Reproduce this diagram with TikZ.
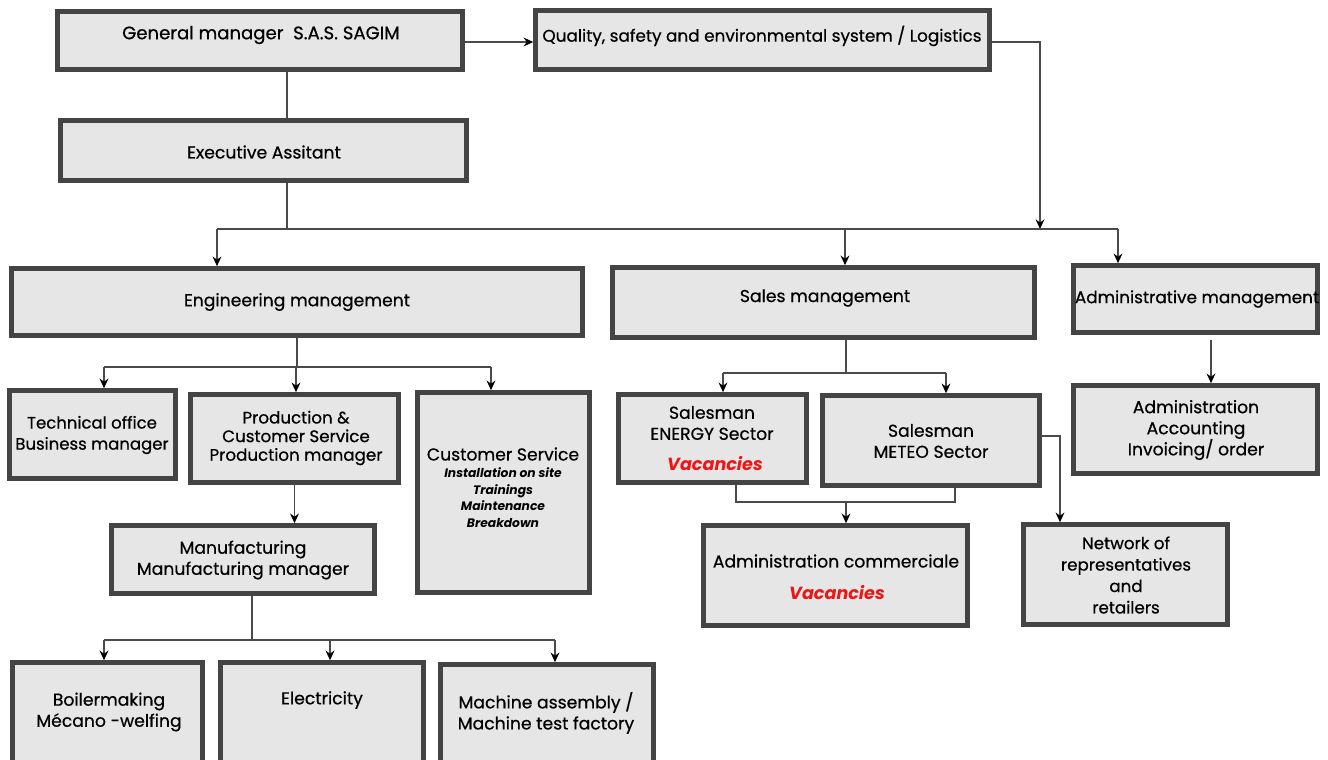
\documentclass[tikz,border=0pt]{standalone}
\usepackage{fontspec}
\setmainfont{Poppins}[UprightFeatures={FakeBold=0.6}]
\usetikzlibrary{arrows.meta,calc}
\definecolor{boxfill}{HTML}{E6E6E6}
\definecolor{boxline}{HTML}{444444}
\definecolor{wire}{HTML}{4A4A4A}
\definecolor{vacred}{HTML}{F01414}
\tikzset{
 org box/.style={draw=boxline,fill=boxfill,line width=2.6pt,inner sep=0pt,outer sep=1.3pt},
 org text/.style={align=center,inner sep=0pt,font=\fontsize{9.8}{12}\selectfont},
 org small/.style={align=center,inner sep=0pt,font=\fontsize{7}{9.6}\selectfont\bfseries\itshape},
 org vac/.style={inner sep=0pt,text=vacred,font=\fontsize{10}{12}\selectfont\bfseries\itshape},
 org wire/.style={draw=wire,line width=.8pt},
 org arrow/.style={org wire,-{Stealth[length=5.5pt,width=5pt,black]}}
}

\begin{document}
\begin{tikzpicture}[x=.02cm,y=-.02cm]
 \clip (0,0) rectangle (1328,760);
 \fill[white] (0,0) rectangle (1328,760);
 % top level
 \node[org box,minimum width=8.10cm,minimum height=1.16cm] (gm) at (260,40.5) {};
 \node[org text,font=\fontsize{10.3}{12}\selectfont] (gmtxt) at (261,35) {General manager\ \ S.A.S. SAGIM};
 \node[org box,minimum width=9.08cm,minimum height=1.18cm] (qse) at (762.5,40) {};
 \node[org text,font=\fontsize{9.6}{12}\selectfont] (qsetxt) at (762,36) {Quality, safety and environmental system / Logistics};
 \node[org box,minimum width=8.12cm,minimum height=1.20cm] (ea) at (263.5,150.5) {};
 \node[org text] (eatxt) at (264,152) {Executive Assitant};
 % departments
 \node[org box,minimum width=11.42cm,minimum height=1.34cm] (eng) at (297,302) {};
 \node[org text] (engtxt) at (297,302) {Engineering management};
 \node[org box,minimum width=8.44cm,minimum height=1.40cm] (sal) at (823.5,302.5) {};
 \node[org text] (saltxt) at (825,298) {Sales management};
 \node[org box,minimum width=4.88cm,minimum height=1.34cm] (adm) at (1195.5,299) {};
 \node[org text,font=\fontsize{9.6}{12}\selectfont] (admtxt) at (1197,299) {Administrative management};
 % engineering
 \node[org box,minimum width=3.32cm,minimum height=1.76cm] (tech) at (92.5,434.5) {};
 \node[org text,font=\fontsize{9.4}{12}\selectfont] (techtxt) at (92,435) {Technical office\\Business manager};
 \node[org box,minimum width=4.16cm,minimum height=1.76cm] (prod) at (294.5,438.5) {};
 \node[org text,font=\fontsize{9.5}{10.6}\selectfont] (prodtxt) at (296,438)
   {Production \&\\Customer Service\\Production manager};
 \node[org box,minimum width=3.44cm,minimum height=4.00cm] (cs) at (503.5,492.5) {};
 \node[org text,font=\fontsize{9.8}{12}\selectfont] (cstxt) at (503,454) {Customer Service};
 \node[org small,anchor=north] (csitems) at (503,467)
   {Installation on site\\Trainings\\Maintenance\\Breakdown};
 \node[org box,minimum width=5.26cm,minimum height=1.36cm] (mf) at (243,559.5) {};
 \node[org text] (mftxt) at (243,560) {Manufacturing\\Manufacturing manager};
 \node[org box,minimum width=3.80cm,minimum height=2.25cm] (boil) at (107.5,718.75) {};
 \node[org text] (boiltxt) at (109,712) {Boilermaking\\Mécano -welfing};
 \node[org box,minimum width=4.06cm,minimum height=2.25cm] (elec) at (322,718.75) {};
 \node[org text] (electxt) at (322,700) {Electricity};
 \node[org box,minimum width=4.26cm,minimum height=2.22cm] (mach) at (547,720) {};
 \node[org text] (machtxt) at (546,713) {Machine assembly /\\Machine test factory};
 % sales
 \node[org box,minimum width=3.76cm,minimum height=1.76cm] (energy) at (712.5,438.5) {};
 \node[org text] (energytxt) at (712,423) {Salesman\\ENERGY Sector};
 \node[org vac] (energyvac) at (715,464) {Vacancies};
 \node[org box,minimum width=4.34cm,minimum height=1.80cm] (meteo) at (931,440.5) {};
 \node[org text] (meteotxt) at (931,441) {Salesman\\METEO Sector};
 \node[org box,minimum width=5.28cm,minimum height=2.00cm] (admcom) at (835.5,575.5) {};
 \node[org text] (admcomtxt) at (836,561) {Administration commerciale};
 \node[org vac] (admcomvac) at (837,593) {Vacancies};
 \node[org box,minimum width=4.08cm,minimum height=2.00cm] (net) at (1125.5,574.5) {};
 \node[org text,font=\fontsize{9.5}{12.2}\selectfont] (nettxt) at (1126,575)
   {Network of\\representatives\\and\\retailers};
 % administration
 \node[org box,minimum width=4.88cm,minimum height=1.76cm] (admacc) at (1195.5,429.5) {};
 \node[org text] (admacctxt) at (1196,430) {Administration\\Accounting\\Invoicing/ order};

 % connectors, top
 \coordinate (trunk) at (287,229);
 \coordinate (qsebus) at (1040,229);
 \coordinate (dropeng) at (217,229);
 \coordinate (dropsal) at (845,229);
 \coordinate (dropadm) at (1118,229);
 \draw[org arrow] (gm.east |- 0,42) -- (qse.west |- 0,42);
 \draw[org wire] (gm.south -| trunk) -- (ea.north -| trunk);
 \draw[org wire] (ea.south -| trunk) -- (trunk);
 \draw[org arrow] (qse.east |- 0,42) -| (qsebus);
 \draw[org wire] (dropeng) -- (dropadm);
 \draw[org arrow] (dropeng) -- (dropeng |- eng.north);
 \draw[org arrow] (dropsal) -- (dropsal |- sal.north);
 \draw[org arrow] (dropadm) -- (dropadm |- adm.north);
 % engineering
 \coordinate (engbus) at (297,367);
 \draw[org wire] (eng.south -| engbus) -- (engbus);
 \draw[org wire] (104,367) -- (491,367);
 \foreach \b/\x in {tech/104,prod/296,cs/491}{
   \draw[org arrow] (\x,367) -- (\x,367 |- \b.north);
 }
 \draw[org arrow] (prod.south) -- (prod.south |- mf.north);
 \coordinate (mfbus) at (252,640);
 \draw[org wire] (mf.south -| mfbus) -- (mfbus);
 \draw[org wire] (104,640) -- (555,640);
 \foreach \b/\x in {boil/104,elec/330,mach/555}{
   \draw[org arrow] (\x,640) -- (\x,640 |- \b.north);
 }
 % sales
 \coordinate (salbus) at (846,373);
 \draw[org wire] (sal.south -| salbus) -- (salbus);
 \draw[org wire] (723,373) -- (946,373);
 \foreach \b/\x in {energy/723,meteo/946}{
   \draw[org arrow] (\x,373) -- (\x,373 |- \b.north);
 }
 \coordinate (sbl) at (736,502);
 \coordinate (sbr) at (955,502);
 \coordinate (sbm) at (846,502);
 \draw[org wire] (energy.south -| sbl) -- (sbl) -- (sbr) -- (meteo.south -| sbr);
 \draw[org arrow] (sbm) -- (sbm |- admcom.north);
 \coordinate (netdrop) at (1060,436);
 \draw[org arrow] (meteo.east |- netdrop) -- (netdrop) -- (netdrop |- net.north);
 % administration
 \coordinate (admdrop) at (1211,340);
 \draw[org arrow] (admdrop) -- (admdrop |- admacc.north);
\end{tikzpicture}
\end{document}
